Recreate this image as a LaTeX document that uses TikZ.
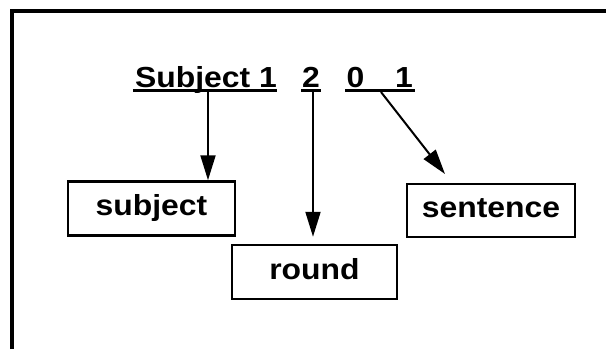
\documentclass[tikz,border=0pt]{standalone}
\usepackage{fontspec}
\setmainfont{Liberation Sans}[FakeStretch=1.1]
\usetikzlibrary{arrows.meta}

\tikzset{
  box/.style={draw, line width=2.5pt, minimum width=167pt, minimum height=54pt,
    inner sep=0pt, text height=20pt, text depth=6pt,
    font=\fontsize{29}{34}\selectfont\bfseries},
  lbl/.style={anchor=base, inner sep=0pt, font=\fontsize{29}{34}\selectfont\bfseries},
  uline/.style={line width=3pt},
  arr/.style={line width=2pt, -{Triangle[length=25pt,width=15pt]}}
}

\begin{document}
\begin{tikzpicture}[x=1pt,y=-1pt]
  \useasboundingbox (0,0) rectangle (606,349);
  % frame, cut off at right and bottom
  \draw[line width=3.5pt] (12,349) -- (12,11) -- (606,11);

  % the code and its parts
  \node (subj1) [lbl] at (206,87) {Subject 1};
  \node (d2) [lbl] at (311,87) {2};
  \node (d0) [lbl] at (355.5,87) {0};
  \node (d1) [lbl] at (404,87) {1};
  \draw[uline] ([xshift=-2pt,yshift=-3pt]subj1.base west) -- ([yshift=-3pt]subj1.base east);
  \draw[uline] ([xshift=-1pt,yshift=-3pt]d2.base west) -- ([xshift=1pt,yshift=-3pt]d2.base east);
  \draw[uline] ([xshift=-1pt,yshift=-3pt]d0.base west) -- ([xshift=2pt,yshift=-3pt]d1.base east);

  \coordinate (u1) at (208,91);
  \coordinate (u2) at (313,91);
  \coordinate (u3) at (381,92);
  \coordinate (t3) at (445,174);

  % meaning boxes
  \node (subject) [box] at (151.5,208.5) {subject};
  \node (round) [box, minimum width=165pt] at (314.5,272) {round};
  \node (sentence) [box, minimum width=168pt, minimum height=53pt] at (491,210.5) {sentence};

  \draw[arr] (u1) -- (u1 |- subject.north);
  \draw[arr, shorten >=7pt] (u2) -- (u2 |- round.north);
  \draw[arr] (u3) -- (t3);
\end{tikzpicture}
\end{document}
